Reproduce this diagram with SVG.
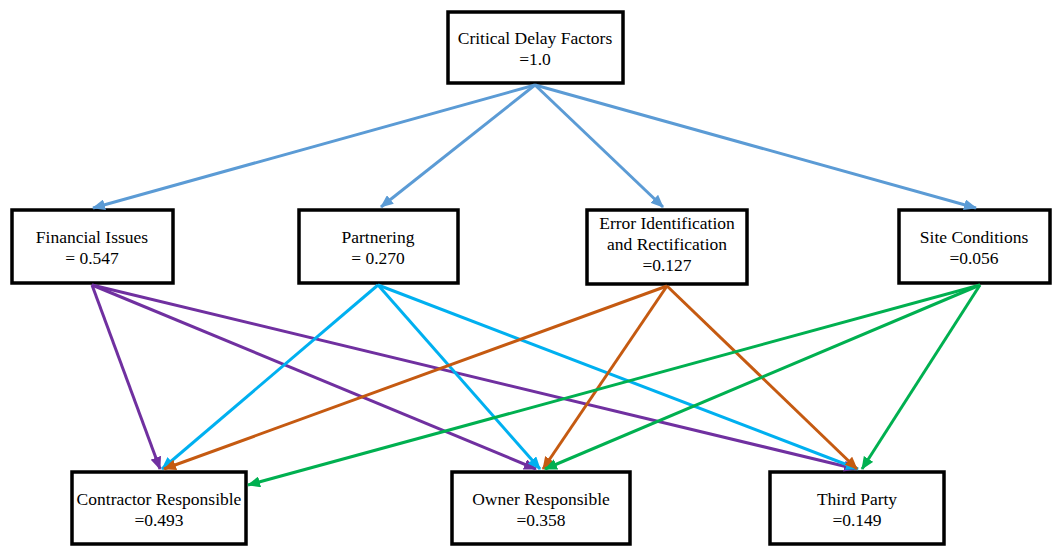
<svg xmlns="http://www.w3.org/2000/svg" width="1054" height="548" viewBox="0 0 1054 548">
<style>
.box{fill:#fff;stroke:#000;stroke-width:3.5}
.t{font-family:"Liberation Serif","Times New Roman",serif;font-size:17.5px;fill:#000;text-anchor:middle}
.c{fill:none;stroke-width:3}
.blue{stroke:#5B9BD5}.purple{stroke:#7030A0}.cyan{stroke:#00B0F0}.orange{stroke:#C55A11}.green{stroke:#00B050}
</style>
<defs>
<marker id="mb" markerUnits="userSpaceOnUse" markerWidth="13" markerHeight="11" refX="12" refY="5.5" orient="auto"><path d="M0,0 L13,5.5 L0,11 z" fill="#5B9BD5"/></marker>
<marker id="mp" markerUnits="userSpaceOnUse" markerWidth="13" markerHeight="11" refX="12" refY="5.5" orient="auto"><path d="M0,0 L13,5.5 L0,11 z" fill="#7030A0"/></marker>
<marker id="mc" markerUnits="userSpaceOnUse" markerWidth="13" markerHeight="11" refX="12" refY="5.5" orient="auto"><path d="M0,0 L13,5.5 L0,11 z" fill="#00B0F0"/></marker>
<marker id="mo" markerUnits="userSpaceOnUse" markerWidth="13" markerHeight="11" refX="12" refY="5.5" orient="auto"><path d="M0,0 L13,5.5 L0,11 z" fill="#C55A11"/></marker>
<marker id="mg" markerUnits="userSpaceOnUse" markerWidth="13" markerHeight="11" refX="12" refY="5.5" orient="auto"><path d="M0,0 L13,5.5 L0,11 z" fill="#00B050"/></marker>
</defs>
<rect width="1054" height="548" fill="#fff"/>
<g id="top"><rect class="box" x="448" y="12" width="175" height="71"/><text class="t" x="535" y="44">Critical Delay Factors</text><text class="t" x="535" y="65">=1.0</text></g>
<g id="financial"><rect class="box" x="12" y="210" width="161" height="73"/><text class="t" x="92" y="243">Financial Issues</text><text class="t" x="92" y="264">= 0.547</text></g>
<g id="partnering"><rect class="box" x="299" y="210" width="159" height="73"/><text class="t" x="378" y="243">Partnering</text><text class="t" x="378" y="264">= 0.270</text></g>
<g id="error"><rect class="box" x="587" y="210" width="160" height="74"/><text class="t" x="667" y="229">Error Identification</text><text class="t" x="667" y="250">and Rectification</text><text class="t" x="667" y="271">=0.127</text></g>
<g id="site"><rect class="box" x="899" y="210" width="151" height="73"/><text class="t" x="974" y="243">Site Conditions</text><text class="t" x="974" y="264">=0.056</text></g>
<g id="contractor"><rect class="box" x="72" y="472" width="174" height="72"/><text class="t" x="159" y="505">Contractor Responsible</text><text class="t" x="159" y="526">=0.493</text></g>
<g id="owner"><rect class="box" x="452" y="472" width="178" height="72"/><text class="t" x="541" y="505">Owner Responsible</text><text class="t" x="541" y="526">=0.358</text></g>
<g id="third"><rect class="box" x="770" y="472" width="174" height="72"/><text class="t" x="857" y="505">Third Party</text><text class="t" x="857" y="526">=0.149</text></g>
<g id="connectors">
<line class="c blue" x1="535" y1="85" x2="93" y2="208" marker-end="url(#mb)"/>
<line class="c blue" x1="535" y1="85" x2="381" y2="207" marker-end="url(#mb)"/>
<line class="c blue" x1="535" y1="85" x2="663" y2="207" marker-end="url(#mb)"/>
<line class="c blue" x1="535" y1="85" x2="976" y2="208" marker-end="url(#mb)"/>
<line class="c purple" x1="92" y1="285" x2="160" y2="469" marker-end="url(#mp)"/>
<line class="c purple" x1="92" y1="285" x2="536" y2="469" marker-end="url(#mp)"/>
<line class="c purple" x1="92" y1="285" x2="856" y2="469" marker-end="url(#mp)"/>
<line class="c cyan" x1="378" y1="285" x2="162" y2="469" marker-end="url(#mc)"/>
<line class="c cyan" x1="378" y1="285" x2="540" y2="469" marker-end="url(#mc)"/>
<line class="c cyan" x1="378" y1="285" x2="858" y2="469" marker-end="url(#mc)"/>
<line class="c orange" x1="667" y1="286" x2="164" y2="469" marker-end="url(#mo)"/>
<line class="c orange" x1="667" y1="286" x2="543" y2="469" marker-end="url(#mo)"/>
<line class="c orange" x1="667" y1="286" x2="857" y2="469" marker-end="url(#mo)"/>
<line class="c green" x1="980" y1="285" x2="248" y2="485" marker-end="url(#mg)"/>
<line class="c green" x1="980" y1="285" x2="545" y2="469" marker-end="url(#mg)"/>
<line class="c green" x1="980" y1="285" x2="862" y2="469" marker-end="url(#mg)"/>
</g>
</svg>
